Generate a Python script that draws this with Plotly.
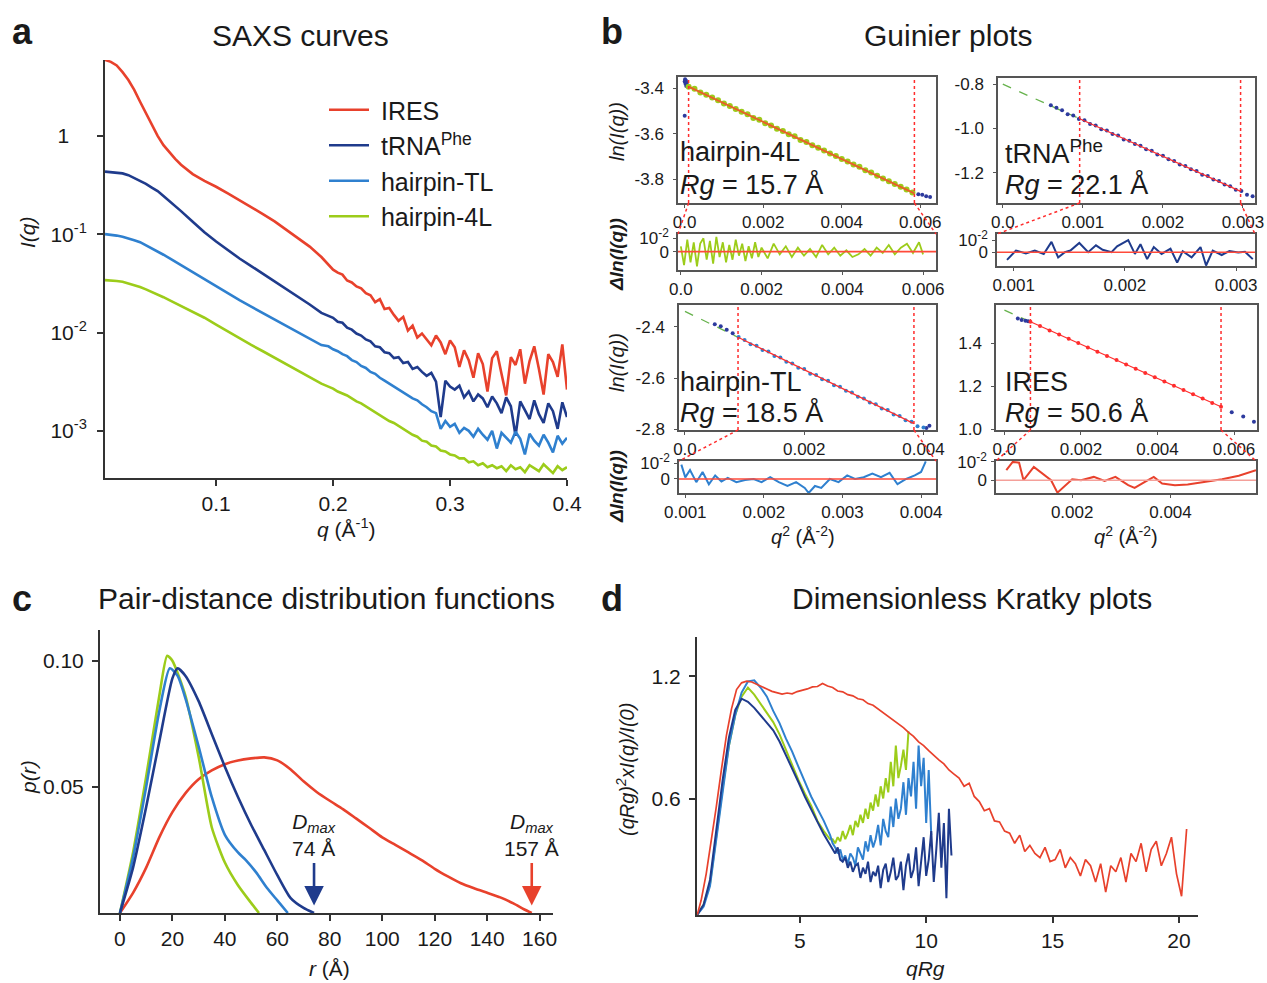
import plotly.graph_objects as go

# ======================= DATA =======================
# ---- panel a: SAXS curves, log10 I(q) ----
Q_A = [0.005, 0.01, 0.015, 0.02, 0.025, 0.03, 0.035, 0.04, 0.045, 0.05, 0.055, 0.06, 0.065,
       0.07, 0.08, 0.09, 0.10, 0.11, 0.12, 0.13, 0.14, 0.15, 0.16, 0.17, 0.18, 0.19,
       0.196, 0.200, 0.204, 0.208, 0.212, 0.216, 0.220, 0.224, 0.228, 0.232, 0.236, 0.240,
       0.244, 0.248, 0.252, 0.256, 0.260, 0.264, 0.268, 0.272, 0.276, 0.280, 0.284, 0.288,
       0.292, 0.296, 0.300, 0.304, 0.308, 0.312, 0.316, 0.320, 0.324, 0.328, 0.332, 0.336,
       0.340, 0.344, 0.348, 0.352, 0.356, 0.360, 0.364, 0.368, 0.372, 0.376, 0.380, 0.384,
       0.388, 0.392, 0.396, 0.400]
IRES_LOG_I = [0.774, 0.755, 0.718, 0.65, 0.57, 0.47, 0.349, 0.231, 0.112, 0.002, -0.093, -0.166, -0.232,
              -0.292, -0.387, -0.457, -0.516, -0.584, -0.652, -0.723, -0.794, -0.868, -0.951, -1.035, -1.125, -1.231,
              -1.31, -1.36, -1.39, -1.41, -1.47, -1.49, -1.53, -1.55, -1.60, -1.62, -1.69, -1.66,
              -1.76, -1.75, -1.82, -1.88, -1.84, -1.98, -1.93, -2.05, -2.01, -2.07, -2.13, -2.03,
              -2.10, -2.22, -2.08, -2.15, -2.35, -2.18, -2.28, -2.46, -2.21, -2.32, -2.60, -2.26,
              -2.19, -2.42, -2.64, -2.25, -2.33, -2.17, -2.52, -2.29, -2.14, -2.37, -2.63, -2.22,
              -2.30, -2.45, -2.12, -2.58]
TRNA_LOG_I = [-0.362, -0.366, -0.372, -0.380, -0.398, -0.426, -0.452, -0.487, -0.524, -0.56, -0.61, -0.66, -0.711,
              -0.764, -0.872, -0.978, -1.073, -1.162, -1.246, -1.323, -1.40, -1.477, -1.555, -1.633, -1.714, -1.80,
              -1.83, -1.85, -1.89, -1.90, -1.95, -1.97, -2.01, -2.03, -2.07, -2.09, -2.14, -2.15,
              -2.20, -2.21, -2.26, -2.25, -2.31, -2.30, -2.37, -2.35, -2.40, -2.44, -2.41, -2.50,
              -2.86, -2.49, -2.55, -2.58, -2.54, -2.66, -2.60, -2.70, -2.63, -2.67, -2.76, -2.65,
              -2.72, -2.82, -2.66, -2.75, -3.05, -2.70, -2.79, -2.88, -2.69, -2.83, -2.92, -2.72,
              -2.80, -2.98, -2.71, -2.86]
TL_LOG_I = [-0.998, -1.004, -1.013, -1.025, -1.04, -1.06, -1.08, -1.11, -1.14, -1.17, -1.208, -1.243, -1.279,
            -1.314, -1.386, -1.456, -1.527, -1.598, -1.670, -1.736, -1.80, -1.867, -1.932, -1.997, -2.063, -2.127,
            -2.14, -2.17, -2.19, -2.22, -2.24, -2.28, -2.30, -2.34, -2.36, -2.40, -2.42, -2.46,
            -2.49, -2.52, -2.55, -2.58, -2.61, -2.64, -2.67, -2.69, -2.73, -2.76, -2.80, -2.82,
            -2.98, -2.90, -2.96, -2.93, -3.02, -2.97, -3.00, -3.06, -2.98, -3.04, -3.09, -3.00,
            -3.18, -3.02, -3.07, -3.12, -3.01, -3.08, -3.24, -3.03, -3.10, -3.15, -3.04, -3.12,
            -3.22, -3.05, -3.13, -3.07]
L4_LOG_I = [-1.466, -1.469, -1.475, -1.483, -1.50, -1.518, -1.537, -1.56, -1.585, -1.61, -1.64, -1.67, -1.70,
            -1.728, -1.79, -1.849, -1.918, -1.99, -2.06, -2.126, -2.19, -2.256, -2.322, -2.388, -2.454, -2.52,
            -2.55, -2.57, -2.60, -2.62, -2.64, -2.67, -2.70, -2.72, -2.75, -2.78, -2.81, -2.84,
            -2.87, -2.90, -2.92, -2.95, -2.98, -3.01, -3.04, -3.06, -3.10, -3.11, -3.15, -3.16,
            -3.20, -3.21, -3.24, -3.25, -3.28, -3.28, -3.32, -3.31, -3.35, -3.33, -3.37, -3.35,
            -3.38, -3.36, -3.41, -3.35, -3.39, -3.37, -3.42, -3.35, -3.38, -3.41, -3.34, -3.39,
            -3.43, -3.36, -3.40, -3.37]

# ---- panel b: Guinier plots (q^2, ln I) ----
L4_IN_Q2 = [0.0001, 0.00025, 0.0004, 0.00055, 0.0007, 0.00085, 0.001, 0.00115, 0.0013, 0.00145, 0.0016,
            0.00175, 0.0019, 0.00205, 0.0022, 0.00235, 0.0025, 0.00265, 0.0028, 0.00295, 0.0031, 0.00325,
            0.0034, 0.00355, 0.0037, 0.00385, 0.004, 0.00415, 0.0043, 0.00445, 0.0046, 0.00475, 0.0049,
            0.00505, 0.0052, 0.00535, 0.0055, 0.00565, 0.0058]
L4_IN_LNI = [-3.393, -3.402, -3.418, -3.428, -3.440, -3.452, -3.466, -3.477, -3.491, -3.503, -3.514,
             -3.530, -3.538, -3.553, -3.563, -3.578, -3.587, -3.602, -3.611, -3.627, -3.636, -3.650,
             -3.661, -3.673, -3.686, -3.697, -3.710, -3.721, -3.735, -3.745, -3.760, -3.770, -3.784,
             -3.796, -3.808, -3.820, -3.833, -3.845, -3.858]
L4_OUT_Q2 = [0.0, 0.00001, 0.00002, 0.00003, 0.00004, 0.00005, 0.00006, 0.0, 0.00595, 0.00605, 0.00615, 0.00625]
L4_OUT_LNI = [-3.37, -3.36, -3.38, -3.365, -3.39, -3.375, -3.385, -3.52, -3.866, -3.868, -3.874, -3.878]
L4_FIT_Q2 = [0.0001, 0.00585]
L4_FIT_LNI = [-3.392, -3.862]
L4_RES_Q2 = [0.00000, 0.00008, 0.00016, 0.00024, 0.00032, 0.00040, 0.00048, 0.00056, 0.00064, 0.00072,
             0.00080, 0.00088, 0.00096, 0.00104, 0.00112, 0.00120, 0.00128, 0.00136, 0.00144, 0.00152,
             0.00160, 0.00168, 0.00176, 0.00184, 0.00192, 0.00200, 0.00215, 0.00230, 0.00245, 0.00260,
             0.00275, 0.00290, 0.00305, 0.00320, 0.00335, 0.00350, 0.00365, 0.00380, 0.00395, 0.00410,
             0.00425, 0.00440, 0.00455, 0.00470, 0.00485, 0.00500, 0.00515, 0.00530, 0.00545, 0.00560,
             0.00575, 0.00590, 0.00600]
L4_RES = [0.004, -0.010, 0.009, -0.008, 0.007, -0.011, 0.006, 0.010, -0.006, 0.008,
          -0.009, 0.011, -0.004, 0.007, -0.008, 0.005, -0.006, 0.009, -0.003, 0.006,
          -0.007, 0.004, -0.005, 0.007, -0.004, 0.003, -0.005, 0.006, -0.002, 0.004,
          -0.004, 0.003, -0.003, 0.002, -0.004, 0.005, -0.002, 0.003, -0.003, 0.001,
          -0.004, -0.002, 0.002, -0.003, 0.003, -0.001, 0.005, -0.002, 0.003, 0.006,
          -0.001, 0.007, -0.002]

TRNA_DOT_Q2 = [0.0006, 0.00067, 0.00074, 0.00081, 0.00088, 0.00095, 0.00102, 0.00109, 0.00116, 0.00123,
               0.0013, 0.00137, 0.00144, 0.00151, 0.00158, 0.00165, 0.00172, 0.00179, 0.00186, 0.00193,
               0.002, 0.00207, 0.00214, 0.00221, 0.00228, 0.00235, 0.00242, 0.00249, 0.00256, 0.00263,
               0.0027, 0.00277, 0.00284, 0.00291, 0.00298, 0.00305, 0.00312]
TRNA_DOT_LNI = [-0.895, -0.906, -0.918, -0.935, -0.941, -0.957, -0.963, -0.980, -0.986, -1.003,
                -1.009, -1.025, -1.032, -1.049, -1.055, -1.070, -1.078, -1.094, -1.100, -1.117,
                -1.123, -1.139, -1.146, -1.162, -1.169, -1.184, -1.192, -1.208, -1.214, -1.230,
                -1.237, -1.253, -1.260, -1.276, -1.282, -1.299, -1.306]
TRNA_EXT_Q2 = [0.0, 0.00096]
TRNA_EXT_LNI = [-0.80, -0.956]
TRNA_FIT_Q2 = [0.00096, 0.00297]
TRNA_FIT_LNI = [-0.956, -1.2835]
TRNA_RES_Q2 = [0.00094, 0.00102, 0.00111, 0.00119, 0.00127, 0.00134, 0.00140, 0.00146, 0.00151, 0.00159,
               0.00167, 0.00174, 0.00180, 0.00188, 0.00193, 0.00203, 0.00209, 0.00214, 0.00220, 0.00226,
               0.00233, 0.00241, 0.00247, 0.00252, 0.00260, 0.00268, 0.00273, 0.00279, 0.00287, 0.00294,
               0.00302, 0.00308, 0.00315]
TRNA_RES = [-0.0063, 0.0014, -0.0010, 0.0014, -0.0014, 0.0086, -0.0043, 0.0000, 0.0014, 0.0077,
            0.0000, 0.0057, 0.0020, 0.0000, 0.0049, 0.0100, -0.0014, 0.0066, -0.0057, 0.0043,
            -0.0014, 0.0029, -0.0086, 0.0009, -0.0043, 0.0043, -0.0110, 0.0014, -0.0023, 0.0009,
            -0.0003, 0.0003, -0.0057]

TL_OUT_Q2 = [0.0005, 0.0006, 0.0007, 0.0008, 0.00405, 0.0041]
TL_OUT_LNI = [-2.390, -2.398, -2.412, -2.425, -2.795, -2.786]
TL_IN_Q2 = [0.0009, 0.0010, 0.0011, 0.0012, 0.0013, 0.0014, 0.0015, 0.0016, 0.0017, 0.0018, 0.0019,
            0.0020, 0.0021, 0.0022, 0.0023, 0.0024, 0.0025, 0.0026, 0.0027, 0.0028, 0.0029, 0.0030,
            0.0031, 0.0032, 0.0033, 0.0034, 0.0035, 0.0036, 0.0037, 0.0038, 0.0039, 0.0040]
TL_IN_LNI = [-2.440, -2.452, -2.468, -2.474, -2.491, -2.497, -2.514, -2.520, -2.537, -2.543, -2.560,
             -2.565, -2.583, -2.588, -2.605, -2.611, -2.628, -2.634, -2.650, -2.657, -2.673, -2.680,
             -2.696, -2.702, -2.719, -2.725, -2.742, -2.748, -2.765, -2.771, -2.788, -2.793]
TL_EXT_Q2 = [0.0, 0.00089]
TL_EXT_LNI = [-2.34, -2.441]
TL_FIT_Q2 = [0.00089, 0.00384]
TL_FIT_LNI = [-2.441, -2.778]
TL_RES_Q2 = [0.00095, 0.00100, 0.00106, 0.00114, 0.00122, 0.00130, 0.00138, 0.00146, 0.00154, 0.00165,
             0.00176, 0.00187, 0.00197, 0.00208, 0.00219, 0.00230, 0.00241, 0.00252, 0.00257, 0.00265,
             0.00273, 0.00284, 0.00295, 0.00306, 0.00316, 0.00327, 0.00338, 0.00349, 0.00360, 0.00370,
             0.00381, 0.00392, 0.00400, 0.00406]
TL_RES = [0.0090, 0.0010, 0.0056, -0.0020, 0.0044, -0.0033, 0.0022, -0.0016, 0.0007, -0.0020,
          -0.0007, 0.0000, -0.0020, 0.0011, -0.0020, -0.0044, -0.0020, -0.0056, -0.0088, -0.0044,
          -0.0056, 0.0000, -0.0020, 0.0022, 0.0000, 0.0011, 0.0033, 0.0011, 0.0038, -0.0033,
          0.0000, 0.0022, 0.0044, 0.0110]

IRES_OUT_Q2 = [0.00035, 0.00045, 0.00055, 0.00062, 0.00594, 0.00624, 0.00652]
IRES_OUT_LNI = [1.515, 1.508, 1.505, 1.502, 1.080, 1.060, 1.035]
IRES_IN_Q2 = [0.00068, 0.00093, 0.00118, 0.00143, 0.00168, 0.00193, 0.00218, 0.00243, 0.00268, 0.00293,
              0.00318, 0.00343, 0.00368, 0.00393, 0.00418, 0.00443, 0.00468, 0.00493, 0.00518, 0.00543, 0.00566]
IRES_IN_LNI = [1.500, 1.480, 1.460, 1.441, 1.421, 1.401, 1.381, 1.361, 1.341, 1.322,
               1.302, 1.282, 1.262, 1.242, 1.222, 1.203, 1.183, 1.163, 1.143, 1.123, 1.105]
IRES_EXT_Q2 = [0.0, 0.00068]
IRES_EXT_LNI = [1.554, 1.500]
IRES_FIT_Q2 = [0.00068, 0.00566]
IRES_FIT_LNI = [1.500, 1.105]
IRES_RES_Q2 = [0.00066, 0.00079, 0.00092, 0.00101, 0.00122, 0.00140, 0.00157, 0.00170, 0.00183, 0.00200,
               0.00218, 0.00244, 0.00266, 0.00288, 0.00314, 0.00327, 0.00348, 0.00366, 0.00383, 0.00409,
               0.00435, 0.00470, 0.00505, 0.00539, 0.00574]
IRES_RES = [0.0055, 0.0100, 0.0096, 0.0000, 0.0073, 0.0036, 0.0000, -0.0068, -0.0036, 0.0005,
            0.0000, 0.0018, -0.0004, 0.0018, -0.0027, -0.0042, -0.0009, 0.0018, -0.0018, -0.0027,
            -0.0024, -0.0009, 0.0005, 0.0024, 0.0055]

# ---- panel c: p(r) ----
PR_IRES_R = [0, 5, 10, 15, 20, 25, 30, 35, 40, 45, 50, 55, 60, 65, 70, 75, 80, 85, 90, 95, 100,
             105, 110, 115, 120, 125, 130, 135, 140, 145, 150, 154, 157]
PR_IRES_P = [0, 0.008, 0.018, 0.030, 0.040, 0.0475, 0.053, 0.0565, 0.059, 0.0605, 0.0613, 0.0617, 0.0605,
             0.057, 0.0522, 0.048, 0.0445, 0.0412, 0.0375, 0.0338, 0.030, 0.027, 0.024, 0.021, 0.0175,
             0.0145, 0.0118, 0.0098, 0.0080, 0.0062, 0.0038, 0.0015, 0]
PR_TRNA_R = [0, 5, 10, 15, 20, 22, 25, 30, 35, 40, 45, 50, 55, 60, 65, 70, 74]
PR_TRNA_P = [0, 0.018, 0.042, 0.068, 0.093, 0.097, 0.094, 0.084, 0.071, 0.058, 0.046, 0.035, 0.025,
             0.015, 0.006, 0.002, 0]
PR_TL_R = [0, 5, 10, 15, 19, 22, 25, 30, 35, 40, 45, 48, 52, 56, 60, 64]
PR_TL_P = [0, 0.022, 0.050, 0.080, 0.097, 0.094, 0.085, 0.066, 0.046, 0.031, 0.024, 0.021, 0.016,
           0.010, 0.005, 0]
PR_4L_R = [0, 5, 10, 15, 18, 20, 25, 30, 35, 40, 45, 50, 53]
PR_4L_P = [0, 0.024, 0.054, 0.086, 0.102, 0.100, 0.086, 0.062, 0.034, 0.020, 0.011, 0.004, 0]
DMAX = {'tRNA': 74, 'IRES': 157}

# ---- panel d: dimensionless Kratky ----
KR_IRES_X = [0.95, 1.1, 1.3, 1.5, 1.7, 1.9, 2.1, 2.3, 2.5, 2.7, 2.9, 3.1, 3.3, 3.5, 3.7, 3.9,
             4.1, 4.3, 4.5, 4.7, 4.9, 5.1, 5.3, 5.5, 5.7, 5.9, 6.1, 6.3, 6.5, 6.7, 6.9, 7.1, 7.3, 7.5,
             7.7, 7.9, 8.1, 8.3, 8.5, 8.7, 8.9, 9.1, 9.3, 9.5, 9.7, 9.9, 10.1, 10.3, 10.5, 10.7, 10.9,
             11.1, 11.3, 11.5, 11.7, 11.9, 12.1, 12.3, 12.5, 12.7, 12.9, 13.1, 13.3, 13.5, 13.7, 13.9,
             14.1, 14.3, 14.5, 14.7, 14.9, 15.1, 15.3, 15.5, 15.7, 15.9, 16.1, 16.3, 16.5, 16.7, 16.9,
             17.1, 17.3, 17.5, 17.7, 17.9, 18.1, 18.3, 18.5, 18.7, 18.9, 19.1, 19.3, 19.5, 19.7, 19.9,
             20.1, 20.3]
KR_IRES_Y = [0.03, 0.10, 0.23, 0.39, 0.56, 0.74, 0.91, 1.04, 1.135, 1.168, 1.176, 1.172, 1.162, 1.15, 1.138, 1.126,
             1.12, 1.113, 1.118, 1.114, 1.125, 1.13, 1.138, 1.148, 1.15, 1.165, 1.152, 1.145, 1.128, 1.124, 1.11,
             1.104, 1.09, 1.085, 1.066, 1.058, 1.04, 1.022, 1.0, 0.985, 0.965, 0.948, 0.925, 0.905, 0.878, 0.86,
             0.835, 0.81, 0.79, 0.77, 0.74, 0.72, 0.70, 0.66, 0.675, 0.61, 0.585, 0.54, 0.55, 0.49, 0.485,
             0.44, 0.43, 0.38, 0.42, 0.34, 0.37, 0.33, 0.31, 0.36, 0.29, 0.30, 0.35, 0.26, 0.31, 0.28, 0.22,
             0.30, 0.27, 0.19, 0.28, 0.14, 0.27, 0.24, 0.31, 0.19, 0.33, 0.29, 0.38, 0.24, 0.35, 0.39, 0.27,
             0.33, 0.41, 0.23, 0.12, 0.45]
KR_TRNA_X = [0.95, 1.2, 1.45, 1.7, 1.95, 2.2, 2.45, 2.7, 2.95, 3.2, 3.45, 3.7, 3.95, 4.2, 4.45, 4.7, 4.95,
             5.2, 5.45, 5.7, 5.95, 6.2,
             6.3, 6.4, 6.5, 6.6, 6.7, 6.8, 6.9, 7.0, 7.1, 7.2, 7.3, 7.4, 7.5, 7.6, 7.7, 7.8, 7.9, 8.0,
             8.1, 8.2, 8.3, 8.4, 8.5, 8.6, 8.7, 8.8, 8.9, 9.0, 9.1, 9.2, 9.3, 9.4, 9.5, 9.6, 9.7, 9.8,
             9.9, 10.0, 10.1, 10.2, 10.3, 10.4, 10.5, 10.6, 10.7, 10.8, 10.9, 11.0]
KR_TRNA_Y = [0.03, 0.08, 0.20, 0.45, 0.69, 0.90, 1.035, 1.09, 1.075, 1.045, 1.01, 0.975, 0.935, 0.88, 0.815,
             0.745, 0.68, 0.61, 0.545, 0.485, 0.425, 0.37,
             0.35, 0.33, 0.36, 0.30, 0.29, 0.31, 0.26, 0.29, 0.24, 0.27, 0.28, 0.21, 0.26, 0.23, 0.29, 0.19,
             0.24, 0.22, 0.27, 0.16, 0.25, 0.28, 0.19, 0.24, 0.31, 0.20, 0.22, 0.29, 0.15, 0.27, 0.33, 0.21,
             0.25, 0.36, 0.17, 0.29, 0.41, 0.22, 0.30, 0.44, 0.19, 0.35, 0.53, 0.26, 0.48, 0.11, 0.55, 0.32]
KR_TL_X = [0.95, 1.2, 1.45, 1.7, 1.95, 2.2, 2.45, 2.7, 2.95, 3.2, 3.45, 3.7, 3.95, 4.2, 4.45, 4.7, 4.95,
           5.2, 5.45, 5.7, 5.95, 6.2,
           6.3, 6.4, 6.5, 6.6, 6.7, 6.8, 6.9, 7.0, 7.1, 7.2, 7.3, 7.4, 7.5, 7.6, 7.7, 7.8, 7.9, 8.0,
           8.1, 8.2, 8.3, 8.4, 8.5, 8.6, 8.7, 8.8, 8.9, 9.0, 9.1, 9.2, 9.3, 9.4, 9.5, 9.6, 9.7, 9.8,
           9.9, 10.0, 10.1, 10.2]
KR_TL_Y = [0.03, 0.07, 0.17, 0.40, 0.63, 0.86, 1.01, 1.12, 1.175, 1.18, 1.145, 1.10, 1.03, 0.97, 0.895,
           0.83, 0.755, 0.68, 0.61, 0.55, 0.49, 0.42,
           0.38, 0.36, 0.33, 0.35, 0.30, 0.32, 0.28, 0.33, 0.31, 0.27, 0.36, 0.33, 0.30, 0.39, 0.34, 0.42,
           0.36, 0.40, 0.47, 0.37, 0.50, 0.44, 0.41, 0.56, 0.46, 0.60, 0.50, 0.55, 0.68, 0.52, 0.70, 0.61,
           0.78, 0.55, 0.86, 0.66, 0.80, 0.48, 0.74, 0.42]
KR_4L_X = [0.95, 1.2, 1.45, 1.7, 1.95, 2.2, 2.45, 2.7, 2.95, 3.2, 3.45, 3.7, 3.95, 4.2, 4.45, 4.7, 4.95,
           5.2, 5.45, 5.7, 5.95, 6.2,
           6.3, 6.4, 6.5, 6.6, 6.7, 6.8, 6.9, 7.0, 7.1, 7.2, 7.3, 7.4, 7.5, 7.6, 7.7, 7.8, 7.9, 8.0,
           8.1, 8.2, 8.3, 8.4, 8.5, 8.6, 8.7, 8.8, 8.9, 9.0, 9.1, 9.2, 9.3]
KR_4L_Y = [0.03, 0.08, 0.18, 0.42, 0.65, 0.86, 1.01, 1.10, 1.145, 1.11, 1.065, 1.02, 0.975, 0.915, 0.84,
           0.765, 0.69, 0.625, 0.565, 0.49, 0.44, 0.40,
           0.40, 0.38, 0.41, 0.39, 0.44, 0.40, 0.43, 0.47, 0.42, 0.49, 0.46, 0.52, 0.48, 0.55, 0.50, 0.58,
           0.54, 0.62, 0.56, 0.66, 0.60, 0.70, 0.63, 0.78, 0.66, 0.86, 0.70, 0.76, 0.84, 0.74, 0.93]

for a, b in [(Q_A, IRES_LOG_I), (Q_A, TRNA_LOG_I), (Q_A, TL_LOG_I), (Q_A, L4_LOG_I),
             (L4_IN_Q2, L4_IN_LNI), (L4_OUT_Q2, L4_OUT_LNI), (L4_RES_Q2, L4_RES),
             (TRNA_DOT_Q2, TRNA_DOT_LNI), (TRNA_RES_Q2, TRNA_RES), (TL_OUT_Q2, TL_OUT_LNI),
             (TL_IN_Q2, TL_IN_LNI), (TL_RES_Q2, TL_RES), (IRES_OUT_Q2, IRES_OUT_LNI),
             (IRES_IN_Q2, IRES_IN_LNI), (IRES_RES_Q2, IRES_RES), (PR_IRES_R, PR_IRES_P),
             (PR_TRNA_R, PR_TRNA_P), (PR_TL_R, PR_TL_P), (PR_4L_R, PR_4L_P),
             (KR_IRES_X, KR_IRES_Y), (KR_TRNA_X, KR_TRNA_Y), (KR_TL_X, KR_TL_Y), (KR_4L_X, KR_4L_Y)]:
    assert len(a) == len(b), (len(a), len(b))

# ======================= STYLE / LAYOUT =======================
W, H = 1267, 983
RED = '#e8412c'
NAVY = '#1f3b8c'
MBLUE = '#2f80cf'
GREEN = '#9ccc1a'
DOT = '#2d3a9e'
FITRED = '#ff2d2d'
FONT = 'Liberation Sans, Arial, sans-serif'
TXT = '#1a1a1a'


def dx(a, b):
    return [a / W, b / W]


def dy(top, bot):
    return [1 - bot / H, 1 - top / H]


# Guinier sub-axes: key -> (x px domain, y px domain, x range, y range)
GB = {
    2: ((678, 936), (77, 203), (-0.00017, 0.0064), (-3.904, -3.35)),
    3: ((678, 936), (234, 270), (-0.00007, 0.00632), (-0.0137, 0.0132)),
    4: ((998, 1255), (78, 203), (-0.00006, 0.00315), (-1.336, -0.772)),
    5: ((997, 1255), (234, 266), (0.00085, 0.00317), (-0.0114, 0.0151)),
    6: ((679, 936), (305, 430), (-0.0001, 0.00421), (-2.803, -2.315)),
    7: ((679, 936), (461, 493), (0.00092, 0.00419), (-0.0088, 0.01125)),
    8: ((996, 1257), (305, 430), (-0.00022, 0.0066), (0.997, 1.578)),
    9: ((996, 1256), (461, 493), (0.00045, 0.00574), (-0.0070, 0.0105)),
}


def base_axis(**kw):
    d = dict(showgrid=False, zeroline=False, showline=True, linecolor='#333', linewidth=2,
             ticks='outside', ticklen=6, tickwidth=2, tickcolor='#333', automargin=False,
             tickfont=dict(size=21, color=TXT, family=FONT))
    d.update(kw)
    return d


def box_axis(**kw):
    d = dict(showgrid=False, zeroline=False, showline=True, mirror=True, linecolor='#555',
             linewidth=1.5, ticks='outside', ticklen=3, tickwidth=1.2, tickcolor='#555', automargin=False,
             tickfont=dict(size=17, color=TXT, family=FONT))
    d.update(kw)
    return d


fig = go.Figure()

# ---- panel a traces (legend) ----
for name, ys, col in [('IRES', IRES_LOG_I, RED), ('tRNA<sup>Phe</sup>', TRNA_LOG_I, NAVY),
                      ('hairpin-TL', TL_LOG_I, MBLUE), ('hairpin-4L', L4_LOG_I, GREEN)]:
    fig.add_trace(go.Scatter(x=Q_A, y=[10 ** v for v in ys], mode='lines', name='\u00a0' + name,
                             line=dict(color=col, width=2.6), xaxis='x', yaxis='y'))


def sc(x, y, ax, **kw):
    fig.add_trace(go.Scatter(x=x, y=y, xaxis='x%d' % ax, yaxis='y%d' % ax, showlegend=False, **kw))


# ---- panel b traces ----
sc(L4_OUT_Q2, L4_OUT_LNI, 2, mode='markers', marker=dict(color=DOT, size=4))
sc(L4_IN_Q2, L4_IN_LNI, 2, mode='markers', marker=dict(color=GREEN, size=6))
sc(L4_FIT_Q2, L4_FIT_LNI, 2, mode='lines', line=dict(color='#e8602a', width=2))
sc(L4_RES_Q2, L4_RES, 3, mode='lines', line=dict(color=GREEN, width=1.8))
sc(TRNA_EXT_Q2, TRNA_EXT_LNI, 4, mode='lines', line=dict(color='#66b24c', width=1.3, dash='dash'))
sc(TRNA_DOT_Q2, TRNA_DOT_LNI, 4, mode='markers', marker=dict(color=DOT, size=4))
sc(TRNA_FIT_Q2, TRNA_FIT_LNI, 4, mode='lines', line=dict(color=FITRED, width=1.2))
sc(TRNA_RES_Q2, TRNA_RES, 5, mode='lines', line=dict(color=NAVY, width=2))
sc(TL_EXT_Q2, TL_EXT_LNI, 6, mode='lines', line=dict(color='#66b24c', width=1.3, dash='dash'))
sc(TL_OUT_Q2, TL_OUT_LNI, 6, mode='markers', marker=dict(color=DOT, size=4))
sc(TL_IN_Q2, TL_IN_LNI, 6, mode='markers', marker=dict(color=MBLUE, size=4))
sc(TL_FIT_Q2, TL_FIT_LNI, 6, mode='lines', line=dict(color=FITRED, width=1.2))
sc(TL_RES_Q2, TL_RES, 7, mode='lines', line=dict(color=MBLUE, width=2))
sc(IRES_EXT_Q2, IRES_EXT_LNI, 8, mode='lines', line=dict(color='#66b24c', width=1.3, dash='dash'))
sc(IRES_OUT_Q2, IRES_OUT_LNI, 8, mode='markers', marker=dict(color=DOT, size=4))
sc(IRES_FIT_Q2, IRES_FIT_LNI, 8, mode='lines', line=dict(color=FITRED, width=1.2))
sc(IRES_IN_Q2, IRES_IN_LNI, 8, mode='markers', marker=dict(color=FITRED, size=4))
sc(IRES_RES_Q2, IRES_RES, 9, mode='lines', line=dict(color=RED, width=2))

# ---- panel c traces ----
for r, p, col in [(PR_IRES_R, PR_IRES_P, RED), (PR_4L_R, PR_4L_P, GREEN),
                  (PR_TL_R, PR_TL_P, MBLUE), (PR_TRNA_R, PR_TRNA_P, NAVY)]:
    sc(r, p, 10, mode='lines', line=dict(color=col, width=2.6, shape='spline', smoothing=0.6))

# ---- panel d traces ----
for xx, yy, col, lw in [(KR_4L_X, KR_4L_Y, GREEN, 2), (KR_TL_X, KR_TL_Y, MBLUE, 2),
                        (KR_TRNA_X, KR_TRNA_Y, NAVY, 2), (KR_IRES_X, KR_IRES_Y, RED, 1.7)]:
    sc(xx, yy, 11, mode='lines', line=dict(color=col, width=lw))

layout = dict(
    template='none',
    width=W, height=H, margin=dict(l=0, r=0, t=0, b=0, pad=0), autosize=False,
    paper_bgcolor='white', plot_bgcolor='white',
    font=dict(family=FONT, color=TXT),
    legend=dict(x=324 / W, y=1 - 87 / H, xanchor='left', yanchor='top',
                font=dict(size=25, color=TXT, family=FONT), bgcolor='rgba(0,0,0,0)',
                borderwidth=0, itemwidth=40, tracegroupgap=0),
    xaxis=base_axis(domain=dx(105, 567), range=[0.005, 0.4], anchor='y',
                    tickvals=[0.1, 0.2, 0.3, 0.4], ticktext=['0.1', '0.2', '0.3', '0.4']),
    yaxis=base_axis(domain=dy(60, 478), type='log', range=[-3.48, 0.774], anchor='x',
                    tickvals=[1, 0.1, 0.01, 0.001],
                    ticktext=['1\u00a0\u00a0\u00a0', '10<sup>-1</sup>', '10<sup>-2</sup>', '10<sup>-3</sup>'],
                    ticklabelstandoff=6),
    xaxis10=base_axis(domain=dx(100, 553), range=[-7.6, 165.1], anchor='y10',
                      tickvals=[0, 20, 40, 60, 80, 100, 120, 140, 160]),
    yaxis10=base_axis(domain=dy(630, 913), range=[0, 0.1122], anchor='x10',
                      tickvals=[0.05, 0.10], ticktext=['0.05', '0.10'], ticklabelstandoff=4),
    xaxis11=base_axis(domain=dx(697, 1198), range=[0.936, 20.75], anchor='y11',
                      tickvals=[5, 10, 15, 20]),
    yaxis11=base_axis(domain=dy(637, 915), range=[0.028, 1.393], anchor='x11',
                      tickvals=[0.6, 1.2], ticktext=['0.6', '1.2'], ticklabelstandoff=4),
)

GX = {2: ([0, 0.002, 0.004, 0.006], ['0.0', '0.002', '0.004', '0.006']),
      3: ([0, 0.002, 0.004, 0.006], ['0.0', '0.002', '0.004', '0.006']),
      4: ([0, 0.001, 0.002, 0.003], ['0.0', '0.001', '0.002', '0.003']),
      5: ([0.001, 0.002, 0.003], ['0.001', '0.002', '0.003']),
      6: ([0, 0.002, 0.004], ['0.0', '0.002', '0.004']),
      7: ([0.001, 0.002, 0.003, 0.004], ['0.001', '0.002', '0.003', '0.004']),
      8: ([0, 0.002, 0.004, 0.006], ['0.0', '0.002', '0.004', '0.006']),
      9: ([0.002, 0.004], ['0.002', '0.004'])}
GY = {2: ([-3.4, -3.6, -3.8], ['-3.4', '-3.6', '-3.8']),
      4: ([-0.8, -1.0, -1.2], ['-0.8', '-1.0', '-1.2']),
      6: ([-2.4, -2.6, -2.8], ['-2.4', '-2.6', '-2.8']),
      8: ([1.0, 1.2, 1.4], ['1.0', '1.2', '1.4'])}
for k, (xd, yd, xr, yr) in GB.items():
    tv, tt = GX[k]
    layout['xaxis%d' % k] = box_axis(domain=dx(*xd), range=list(xr), anchor='y%d' % k,
                                      tickvals=tv, ticktext=tt, ticklabelstandoff=0)
    if k in GY:
        yv, yt = GY[k]
        layout['yaxis%d' % k] = box_axis(domain=dy(*yd), range=list(yr), anchor='x%d' % k,
                                          tickvals=yv, ticktext=yt, ticklabelstandoff=6)
    else:
        layout['yaxis%d' % k] = box_axis(domain=dy(*yd), range=list(yr), anchor='x%d' % k,
                                          tickvals=[0, 0.01], ticktext=['0', '10<sup>-2</sup>'],
                                          ticklabelstandoff=1)

fig.update_layout(**layout)

# ---- shapes: fit-range markers, zero lines, zoom connectors ----
shapes = []
FITS = {2: L4_FIT_Q2, 4: TRNA_FIT_Q2, 6: TL_FIT_Q2, 8: IRES_FIT_Q2}


def to_px(k, v):
    (x0, x1), _, (r0, r1), _ = GB[k]
    return x0 + (v - r0) / (r1 - r0) * (x1 - x0)


for k, fr in FITS.items():
    for v in fr:
        shapes.append(dict(type='line', xref='x%d' % k, yref='y%d domain' % k, x0=v, x1=v, y0=0, y1=1,
                           line=dict(color=FITRED, width=1.5, dash='dot')))
    main_bot = GB[k][1][1]
    rk = k + 1
    (rx0, rx1), (rtop, _), _, _ = GB[rk]
    for v, rx in zip(fr, (rx0, rx1)):
        shapes.append(dict(type='line', xref='paper', yref='paper',
                           x0=to_px(k, v) / W, y0=1 - main_bot / H, x1=rx / W, y1=1 - rtop / H,
                           line=dict(color=FITRED, width=1.5, dash='dot')))
    zcol = '#f4a09a' if k == 8 else '#ff4a3a'
    shapes.append(dict(type='line', xref='x%d domain' % rk, yref='y%d' % rk, x0=0, x1=1, y0=0, y1=0,
                       line=dict(color=zcol, width=1.6)))
fig.update_layout(shapes=shapes)

# ---- annotations ----
ann = []


def txt(x, y, text, size, **kw):
    d = dict(x=x / W, y=1 - y / H, xref='paper', yref='paper', text=text, showarrow=False,
             font=dict(size=size, color=TXT, family=FONT), xanchor='center', yanchor='middle')
    d.update(kw)
    ann.append(d)


for (x, y, t) in [(22, 32, 'a'), (612, 32, 'b'), (22, 598, 'c'), (612, 598, 'd')]:
    txt(x, y, '<b>%s</b>' % t, 36)
txt(300, 35, 'SAXS curves', 30)
txt(948, 35, 'Guinier plots', 30)
txt(326, 598, 'Pair-distance distribution functions', 30)
txt(972, 598, 'Dimensionless Kratky plots', 30)

txt(346, 528, '<i>q</i> (Å<sup>-1</sup>)', 21)
txt(27, 232, '<i>I(q)</i>', 21, textangle=-90)
txt(803, 535, '<i>q</i><sup>2</sup> (Å<sup>-2</sup>)', 20)
txt(1126, 535, '<i>q</i><sup>2</sup> (Å<sup>-2</sup>)', 20)
txt(617, 132, '<i>ln(I(q))</i>', 20, textangle=-90)
txt(617, 363, '<i>ln(I(q))</i>', 20, textangle=-90)
txt(617, 255, '<b><i>Δln(I(q))</i></b>', 19, textangle=-90)
txt(617, 487, '<b><i>Δln(I(q))</i></b>', 19, textangle=-90)
txt(330, 968, '<i>r</i> (Å)', 21)
txt(28, 777, '<i>p(r)</i>', 21, textangle=-90)
txt(925, 968, '<i>qRg</i>', 21)
txt(625, 770, '<i>(qRg)<sup>2</sup>xI(q)/I(0)</i>', 20, textangle=-90)

for (x, y1, y2, name, rg) in [(678, 152, 184, 'hairpin-4L', '15.7'),
                              (1003, 152, 184, 'tRNA<sup>Phe</sup>', '22.1'),
                              (678, 382, 413, 'hairpin-TL', '18.5'),
                              (1003, 382, 413, 'IRES', '50.6')]:
    txt(x, y1, name, 27, xanchor='left')
    txt(x, y2, '<i>Rg</i> = %s Å' % rg, 27, xanchor='left')

for key, col in [('tRNA', NAVY), ('IRES', RED)]:
    d = DMAX[key]
    ann.append(dict(x=d, y=0.003, xref='x10', yref='y10', ax=0, ay=-44, text='', showarrow=True,
                    arrowhead=2, arrowsize=1.5, arrowwidth=2.6, arrowcolor=col))
    ann.append(dict(x=d, y=0.0308, xref='x10', yref='y10', showarrow=False,
                    text='<i>D</i><sub><i>max</i></sub><br>%d Å' % d,
                    font=dict(size=21, color=TXT, family=FONT), xanchor='center', yanchor='middle'))

fig.update_layout(annotations=ann)
fig.write_html("out.html", config={'displayModeBar': False},
               post_script="document.body.style.margin='0px';document.body.style.overflow='hidden';")
